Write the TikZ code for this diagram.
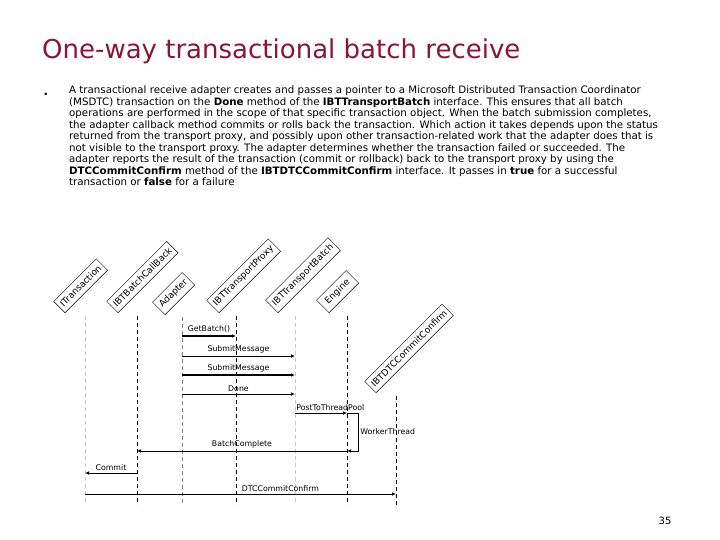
\documentclass[tikz,border=0pt]{standalone}
\usepackage{fontspec}
\setmainfont{DejaVu Sans}
\usetikzlibrary{arrows.meta}
\definecolor{titlered}{RGB}{140,20,55}

\begin{document}
\begin{tikzpicture}[x=1pt, y=-1pt,
        box/.style={draw, rotate=45, anchor=south west, inner xsep=3pt, inner ysep=4.5pt, minimum width=42pt, font=\fontsize{9}{10}\selectfont},
        life/.style={dash pattern=on 4pt off 3pt, line width=0.6pt},
        msg/.style={-{Latex[length=4pt,width=3.5pt]}, line width=0.7pt},
        lbl/.style={font=\fontsize{7.8}{9}\selectfont, inner sep=1pt}
    ]
    \useasboundingbox (0,0) rectangle (720,540);

    % slide text
    \node (title) [anchor=base west, inner sep=0pt, text=titlered, font=\fontsize{26}{30}\selectfont] at (42,59) {One-way transactional batch receive};
    \node (bullet) [inner sep=0pt, font=\fontsize{8.5}{9}\selectfont] at (46,95) {\textbullet};
    \node (body) [anchor=north west, inner sep=0pt, align=left, font=\fontsize{10.25}{11.5}\selectfont] at (69,86) {%
        A transactional receive adapter creates and passes a pointer to a Microsoft Distributed Transaction Coordinator\\
        (MSDTC) transaction on the \textbf{Done} method of the \textbf{IBTTransportBatch} interface. This ensures that all batch\\
        operations are performed in the scope of that specific transaction object. When the batch submission completes,\\
        the adapter callback method commits or rolls back the transaction. Which action it takes depends upon the status\\
        returned from the transport proxy, and possibly upon other transaction-related work that the adapter does that is\\
        not visible to the transport proxy. The adapter determines whether the transaction failed or succeeded. The\\
        adapter reports the result of the transaction (commit or rollback) back to the transport proxy by using the\\
        \textbf{DTCCommitConfirm} method of the \textbf{IBTDTCCommitConfirm} interface. It passes in \textbf{true} for a successful\\
        transaction or \textbf{false} for a failure};
    \node (page) [font=\fontsize{10}{12}\selectfont] at (665,521) {35};

    % objects
    \node (itrBox) [box] at (65,313) {ITransaction};
    \node (cbkBox) [box] at (118,313) {IBTBatchCallBack};
    \node (adpBox) [box] at (165,315) {Adapter};
    \node (prxBox) [box] at (219,313) {IBTTransportProxy};
    \node (batBox) [box] at (278,313) {IBTTransportBatch};
    \node (engBox) [box] at (329,313) {Engine};
    \node (dtcBox) [box] at (376,393) {IBTDTCCommitConfirm};

    % lifelines
    \coordinate (itr) at (85,316);
    \coordinate (cbk) at (137,316);
    \coordinate (adp) at (182,317);
    \coordinate (prx) at (236,316);
    \coordinate (bat) at (295,316);
    \coordinate (eng) at (347,316);
    \coordinate (dtc) at (396,396);
    \coordinate (bottom) at (0,505);
    \foreach \n/\c in {itr/gray!45, cbk/black, adp/gray, prx/black, bat/gray!45, eng/black, dtc/black}
        \draw[life, \c] (\n) -- (\n |- bottom);

    % message rows
    \coordinate (getb) at (0,336);
    \coordinate (sub1) at (0,356);
    \coordinate (sub2) at (0,375);
    \coordinate (done) at (0,394);
    \coordinate (post) at (0,413);
    \coordinate (bcomp) at (0,451);
    \coordinate (commit) at (0,473);
    \coordinate (dtcc) at (0,494);

    % messages
    \draw[msg, line width=1.2pt] (adp |- getb) -- node[lbl, above=1.5pt] {GetBatch()} (prx |- getb);
    \draw[msg] (adp |- sub1) -- node[lbl, above=1.5pt] {SubmitMessage} (bat |- sub1);
    \draw[msg, line width=1.1pt] (adp |- sub2) -- node[lbl, above=1.5pt] {SubmitMessage} (bat |- sub2);
    \draw[msg] (adp |- done) -- node[lbl, above=1.5pt] {Done} (bat |- done);
    \draw[msg] (bat |- post) -- node[lbl, anchor=south west, yshift=1.5pt, pos=0] {PostToThreadPool} (eng |- post);
    \draw[msg] (eng |- post) -- ++(11,0) |- node[lbl, right=1pt, pos=0.25] {WorkerThread} (eng |- bcomp);
    \draw[msg] (eng |- bcomp) -- node[lbl, above=1.5pt] {BatchComplete} (cbk |- bcomp);
    \draw[msg] (cbk |- commit) -- node[lbl, above=1.5pt] {Commit} (itr |- commit);
    \draw[msg] (itr |- dtcc) -- node[lbl, anchor=south west, yshift=1.5pt] {DTCCommitConfirm} (dtc |- dtcc);
\end{tikzpicture}
\end{document}
